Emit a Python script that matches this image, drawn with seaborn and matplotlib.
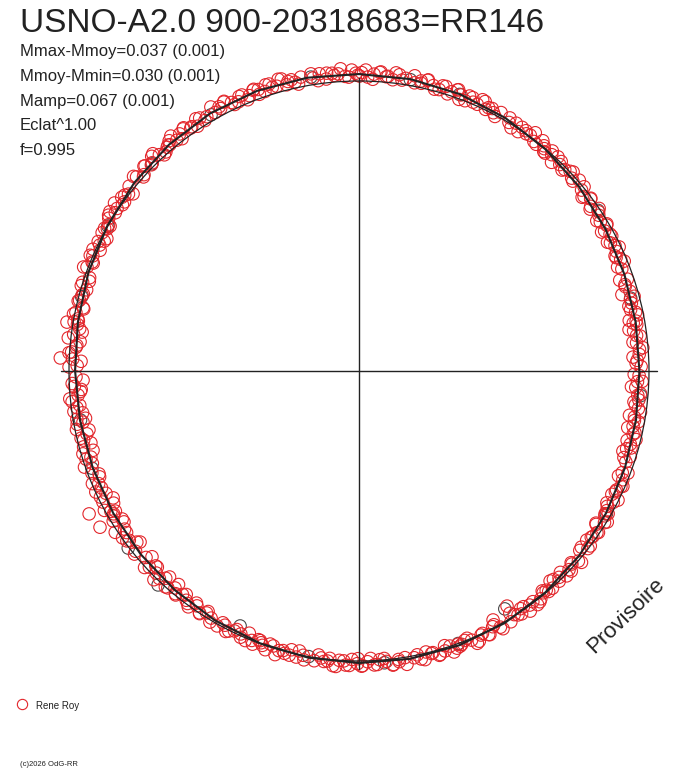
import numpy as np
import pandas as pd
import matplotlib
matplotlib.use("Agg")
import matplotlib.pyplot as plt
from matplotlib.patches import Circle
import seaborn as sns

# ---------------- data ----------------
title = "USNO-A2.0 900-20318683=RR146"
stats_lines = ["Mmax-Mmoy=0.037 (0.001)", "Mmoy-Mmin=0.030 (0.001)",
               "Mamp=0.067 (0.001)", "Eclat^1.00", "f=0.995"]
observer = "Rene Roy"
copyright_txt = "(c)2026 OdG-RR"
watermark = "Provisoire"

# fitted curve: radius (reference circle = 1) every 10 degrees of phase angle
fit_angle_deg = [0, 10, 20, 30, 40, 50, 60, 70, 80, 90, 100, 110, 120, 130, 140, 150, 160, 170,
                 180, 190, 200, 210, 220, 230, 240, 250, 260, 270, 280, 290, 300, 310, 320, 330, 340, 350]
fit_radius = [1.024, 1.022, 1.016, 1.008, 0.999, 0.990, 0.981, 0.974, 0.969, 0.967, 0.970, 0.976,
              0.983, 0.991, 0.998, 1.004, 1.007, 1.008, 1.007, 1.004, 0.999, 0.993, 0.987, 0.983,
              0.979, 0.977, 0.977, 0.979, 0.984, 0.993, 1.002, 1.011, 1.019, 1.026, 1.028, 1.027]

# observations (Rene Roy), first run: phase angle in degrees, radius in thousandths
red_angle_deg_a = [
    0.5, 1.7, 2.9, 4.2, 5.3, 6.6, 7.8, 9.1,
    10.9, 12.1, 13.4, 14.6, 15.9, 17.0, 18.3, 19.5,
    20.3, 21.4, 22.6, 23.9, 25.1, 26.2, 27.5, 28.8,
    31.1, 32.4, 33.6, 34.8, 36.0, 37.3, 38.6, 39.8,
    40.5, 41.7, 42.9, 44.2, 45.3, 46.6, 47.8, 49.1,
    50.9, 52.1, 53.4, 54.6, 55.9, 57.0, 58.3, 59.5,
    60.3, 61.4, 62.6, 63.9, 65.1, 66.2, 67.5, 68.8,
    71.1, 72.4, 73.6, 74.8, 76.0, 77.3, 78.6, 79.8,
    80.5, 81.7, 82.9, 84.2, 85.3, 86.6, 87.8, 89.1,
    90.9, 92.1, 93.4, 94.6, 95.9, 97.0, 98.3, 99.5,
    100.3, 101.4, 102.6, 103.9, 105.1, 106.2, 107.5, 108.8,
    111.1, 112.4, 113.6, 114.8, 116.0, 117.3, 118.6, 119.8,
    120.5, 121.7, 122.9, 124.2, 125.3, 126.6, 127.8, 129.1,
    130.9, 132.1, 133.4, 134.6, 135.9, 137.0, 138.3, 139.5,
    140.3, 141.4, 142.6, 143.9, 145.1, 146.2, 147.5, 148.8,
    151.1, 152.4, 153.6, 154.8, 156.0, 157.3, 158.6, 159.8,
    160.5, 161.7, 162.9, 164.2, 165.3, 166.6, 167.8, 169.1,
    170.9, 172.1, 173.4, 174.6, 175.9, 177.0, 178.3, 179.5,
    180.3, 181.4, 182.6, 183.9, 185.1, 186.2, 187.5, 188.8,
    191.1, 192.4, 193.6, 194.8, 196.0, 197.3, 198.6, 199.8,
    200.5, 201.7, 202.9, 204.2, 205.3, 206.6, 207.8, 209.1,
    210.9, 212.1, 213.4, 214.6, 215.9, 217.0, 218.3, 219.5,
    220.3, 221.4, 222.6, 223.9, 225.1, 226.2, 227.5, 228.8,
    231.1, 232.4, 233.6, 234.8, 236.0, 237.3, 238.6, 239.8,
    240.5, 241.7, 242.9, 244.2, 245.3, 246.6, 247.8, 249.1,
    250.9, 252.1, 253.4, 254.6, 255.9, 257.0, 258.3, 259.5,
    260.3, 261.4, 262.6, 263.9, 265.1, 266.2, 267.5, 268.8,
    271.1, 272.4, 273.6, 274.8, 276.0, 277.3, 278.6, 279.8,
    280.5, 281.7, 282.9, 284.2, 285.3, 286.6, 287.8, 289.1,
    290.9, 292.1, 293.4, 294.6, 295.9, 297.0, 298.3, 299.5,
    300.3, 301.4, 302.6, 303.9, 305.1, 306.2, 307.5, 308.8,
    311.1, 312.4, 313.6, 314.8, 316.0, 317.3, 318.6, 319.8,
    320.5, 321.7, 322.9, 324.2, 325.3, 326.6, 327.8, 329.1,
    330.9, 332.1, 333.4, 334.6, 335.9, 337.0, 338.3, 339.5,
    340.3, 341.4, 342.6, 343.9, 345.1, 346.2, 347.5, 348.8,
    351.1, 352.4, 353.6, 354.8, 356.0, 357.3, 358.6, 359.8,
    238.9, 242.1, 272.5, 279.5, 147.8, 151.7]
red_radius_milli_a = [
    1029, 1014, 1025, 1034, 1019, 1011, 1031, 1022,
    1012, 1023, 1032, 1017, 1009, 1026, 1014, 1029,
    1015, 1001, 1021, 1006, 1026, 1012, 1004, 1017,
    1001, 1012, 991, 1009, 1005, 995, 1016, 998,
    988, 999, 1008, 993, 985, 1002, 990, 1005,
    989, 975, 995, 980, 1000, 986, 978, 991,
    975, 986, 965, 983, 979, 969, 990, 972,
    978, 963, 974, 983, 968, 960, 980, 971,
    971, 957, 977, 962, 982, 968, 960, 973,
    966, 977, 956, 974, 970, 960, 981, 963,
    979, 964, 975, 984, 969, 961, 981, 972,
    973, 984, 993, 978, 970, 987, 975, 990,
    984, 995, 974, 992, 988, 978, 999, 981,
    1001, 986, 997, 1006, 991, 983, 1003, 994,
    994, 1005, 1014, 999, 991, 1008, 996, 1011,
    1009, 995, 1015, 1000, 1020, 1006, 998, 1011,
    1014, 999, 1010, 1019, 1004, 996, 1016, 1007,
    1001, 1012, 1021, 1006, 998, 1015, 1003, 1018,
    1009, 995, 1015, 1000, 1020, 1006, 998, 1011,
    999, 1010, 989, 1007, 1003, 993, 1014, 996,
    989, 1000, 1009, 994, 986, 1003, 991, 1006,
    993, 979, 999, 984, 1004, 990, 982, 995,
    981, 997, 965, 993, 987, 971, 1003, 976,
    990, 967, 984, 998, 975, 963, 993, 979,
    983, 961, 992, 969, 999, 978, 966, 986,
    973, 989, 957, 985, 979, 963, 995, 968,
    987, 964, 981, 995, 972, 960, 990, 976,
    972, 988, 1002, 979, 967, 992, 974, 997,
    986, 997, 976, 994, 990, 980, 1001, 983,
    1004, 989, 1000, 1009, 994, 986, 1006, 997,
    1000, 1011, 1020, 1005, 997, 1014, 1002, 1017,
    1018, 1004, 1024, 1009, 1029, 1015, 1007, 1020,
    1029, 1014, 1025, 1034, 1019, 1011, 1031, 1022,
    1020, 1031, 1040, 1025, 1017, 1034, 1022, 1037,
    1031, 1017, 1037, 1022, 1042, 1028, 1020, 1033,
    1023, 1034, 1013, 1031, 1027, 1017, 1038, 1020,
    1043, 1053, 1031, 1021, 958, 975]

# observations (Rene Roy), second run
red_angle_deg_b = [
    0.1, 1.3, 2.7, 4.0, 5.6, 7.1, 8.4,
    10.7, 12.2, 13.3, 15.0, 16.4, 17.7, 19.3,
    20.2, 21.9, 23.0, 24.5, 25.8, 26.9, 28.1,
    30.8, 32.0, 33.8, 35.2, 36.5, 38.0, 39.4,
    40.1, 41.3, 42.7, 44.0, 45.6, 47.1, 48.4,
    50.7, 52.2, 53.3, 55.0, 56.4, 57.7, 59.3,
    60.2, 61.9, 63.0, 64.5, 65.8, 66.9, 68.1,
    70.8, 72.0, 73.8, 75.2, 76.5, 78.0, 79.4,
    80.1, 81.3, 82.7, 84.0, 85.6, 87.1, 88.4,
    90.7, 92.2, 93.3, 95.0, 96.4, 97.7, 99.3,
    100.2, 101.9, 103.0, 104.5, 105.8, 106.9, 108.1,
    110.8, 112.0, 113.8, 115.2, 116.5, 118.0, 119.4,
    120.1, 121.3, 122.7, 124.0, 125.6, 127.1, 128.4,
    130.7, 132.2, 133.3, 135.0, 136.4, 137.7, 139.3,
    140.2, 141.9, 143.0, 144.5, 145.8, 146.9, 148.1,
    150.8, 152.0, 153.8, 155.2, 156.5, 158.0, 159.4,
    160.1, 161.3, 162.7, 164.0, 165.6, 167.1, 168.4,
    170.7, 172.2, 173.3, 175.0, 176.4, 177.7, 179.3,
    180.2, 181.9, 183.0, 184.5, 185.8, 186.9, 188.1,
    190.8, 192.0, 193.8, 195.2, 196.5, 198.0, 199.4,
    200.1, 201.3, 202.7, 204.0, 205.6, 207.1, 208.4,
    210.7, 212.2, 213.3, 215.0, 216.4, 217.7, 219.3,
    220.2, 221.9, 223.0, 224.5, 225.8, 226.9, 228.1,
    230.8, 232.0, 233.8, 235.2, 236.5, 238.0, 239.4,
    240.1, 241.3, 242.7, 244.0, 245.6, 247.1, 248.4,
    250.7, 252.2, 253.3, 255.0, 256.4, 257.7, 259.3,
    260.2, 261.9, 263.0, 264.5, 265.8, 266.9, 268.1,
    270.8, 272.0, 273.8, 275.2, 276.5, 278.0, 279.4,
    280.1, 281.3, 282.7, 284.0, 285.6, 287.1, 288.4,
    290.7, 292.2, 293.3, 295.0, 296.4, 297.7, 299.3,
    300.2, 301.9, 303.0, 304.5, 305.8, 306.9, 308.1,
    310.8, 312.0, 313.8, 315.2, 316.5, 318.0, 319.4,
    320.1, 321.3, 322.7, 324.0, 325.6, 327.1, 328.4,
    330.7, 332.2, 333.3, 335.0, 336.4, 337.7, 339.3,
    340.2, 341.9, 343.0, 344.5, 345.8, 346.9, 348.1,
    350.8, 352.0, 353.8, 355.2, 356.5, 358.0, 359.4]
red_radius_milli_b = [
    1017, 1038, 1007, 1032, 1021, 1036, 1014,
    1036, 1015, 1030, 1006, 1025, 1003, 1027,
    998, 1022, 1007, 1028, 1002, 1015, 995,
    1016, 989, 1011, 1001, 1022, 992, 1005,
    989, 1010, 979, 1004, 993, 1008, 986,
    1003, 982, 997, 973, 992, 970, 994,
    964, 988, 973, 994, 968, 981, 961,
    952, 964, 944, 968, 957, 975, 948,
    960, 942, 965, 950, 970, 946, 956,
    949, 961, 941, 965, 954, 972, 945,
    965, 947, 970, 955, 975, 951, 961,
    992, 965, 987, 977, 998, 968, 981,
    981, 1002, 971, 996, 985, 1000, 978,
    1012, 991, 1006, 982, 1001, 979, 1003,
    987, 1011, 996, 1017, 991, 1004, 984,
    1018, 991, 1013, 1003, 1024, 994, 1007,
    1002, 1023, 992, 1017, 1006, 1021, 999,
    1025, 1004, 1019, 995, 1014, 992, 1016,
    992, 1016, 1001, 1022, 996, 1009, 989,
    1014, 987, 1009, 999, 1020, 990, 1003,
    990, 1011, 980, 1005, 994, 1009, 987,
    1007, 986, 1001, 977, 996, 974, 998,
    964, 1000, 977, 1009, 970, 990, 959,
    999, 958, 992, 976, 1008, 963, 983,
    969, 1001, 954, 992, 975, 998, 964,
    1003, 971, 994, 957, 986, 953, 989,
    957, 993, 970, 1002, 963, 983, 952,
    1000, 959, 993, 977, 1009, 964, 984,
    983, 1004, 973, 998, 987, 1002, 980,
    1015, 994, 1009, 985, 1004, 982, 1006,
    993, 1017, 1002, 1023, 997, 1010, 990,
    1027, 1000, 1022, 1012, 1033, 1003, 1016,
    1017, 1038, 1007, 1032, 1021, 1036, 1014,
    1044, 1023, 1038, 1014, 1033, 1011, 1035,
    1014, 1038, 1023, 1044, 1018, 1031, 1011,
    1038, 1011, 1033, 1023, 1044, 1014, 1027]

# other observations (grey)
grey_angle_deg = [350.7, 56.1, 148.5, 205.0, 223.2, 232.5, 20.0, 95.0, 120.0, 175.0,
                  260.0, 300.0, 330.0, 75.0, 190.0, 285.0, 10.0, 160.0, 250.0, 315.0]
grey_radius_milli = [1027, 993, 962, 970, 1012, 1003, 1015, 975, 985, 1010,
                     975, 1000, 1020, 970, 1000, 990, 1020, 1000, 980, 1010]

# ---------------- styling / layout ----------------
RED = "#e3262b"
GREY = "#4a4a4a"
INK = "#222222"
W, H = 688, 768
CX, CY, R = 359.0, 371.0, 290.0   # pixel centre and reference radius

sns.set_style("white")
plt.rcParams["font.family"] = ["Liberation Sans", "DejaVu Sans"]

fig = plt.figure(figsize=(W / 100, H / 100), dpi=100)
ax = fig.add_axes([0, 0, 1, 1])
ax.set_xlim(-CX / R, (W - CX) / R)
ax.set_ylim(-(H - CY) / R, CY / R)
ax.axis("off")


def to_xy(angle_deg, radius):
    a = np.deg2rad(np.asarray(angle_deg, dtype=float))
    r = np.asarray(radius, dtype=float)
    return r * np.sin(a), r * np.cos(a)


gx, gy = to_xy(grey_angle_deg, np.asarray(grey_radius_milli) / 1000)
rx, ry = to_xy(red_angle_deg_a + red_angle_deg_b,
               np.asarray(red_radius_milli_a + red_radius_milli_b) / 1000)
grey_df = pd.DataFrame({"x": gx, "y": gy})
red_df = pd.DataFrame({"x": rx, "y": ry})

# crosshair
ax.plot([-1.028, 1.028], [0, 0], color=INK, lw=1.0, zorder=3)
ax.plot([0, 0], [-1.028, 1.012], color=INK, lw=1.0, zorder=3)

# reference circle
ax.add_patch(Circle((0, 0), 1.0, fill=False, edgecolor=INK, lw=0.9, zorder=3))

sns.scatterplot(data=grey_df, x="x", y="y", ax=ax, s=80, marker="o",
                facecolors="none", edgecolor=GREY, linewidth=0.8, zorder=2, legend=False)
sns.scatterplot(data=red_df, x="x", y="y", ax=ax, s=80, marker="o",
                facecolors="none", edgecolor=RED, linewidth=0.8, zorder=2.5, legend=False)

# fitted curve (closed)
fx, fy = to_xy(fit_angle_deg + [fit_angle_deg[0]], fit_radius + [fit_radius[0]])
fit_df = pd.DataFrame({"x": fx, "y": fy})
sns.lineplot(data=fit_df, x="x", y="y", sort=False, estimator=None, ax=ax,
             color=INK, lw=1.5, zorder=4)


# texts
def fx_(px):
    return px / W


def fy_(py):
    return 1 - py / H


fig.text(fx_(20), fy_(31.7), title, fontsize=24, color=INK, va="baseline", ha="left")
for i, line in enumerate(stats_lines):
    fig.text(fx_(20), fy_([56, 81, 106, 130.5, 155][i]), line, fontsize=12,
             color=INK, va="baseline", ha="left")

fig.text(fx_(626), fy_(616), watermark, fontsize=16, color=INK, rotation=44,
         rotation_mode="anchor", ha="center", va="center")

ax.plot([fx_(22.3)], [fy_(704.3)], marker="o", markersize=7.4, markerfacecolor="none",
        markeredgecolor=RED, markeredgewidth=0.8, transform=fig.transFigure, clip_on=False)
fig.text(fx_(36), fy_(709.3), observer, fontsize=7, color=INK, va="baseline", ha="left")
fig.text(fx_(20), fy_(766), copyright_txt, fontsize=5.5, color=INK, va="baseline", ha="left")

fig.savefig("out.png", dpi=100)
